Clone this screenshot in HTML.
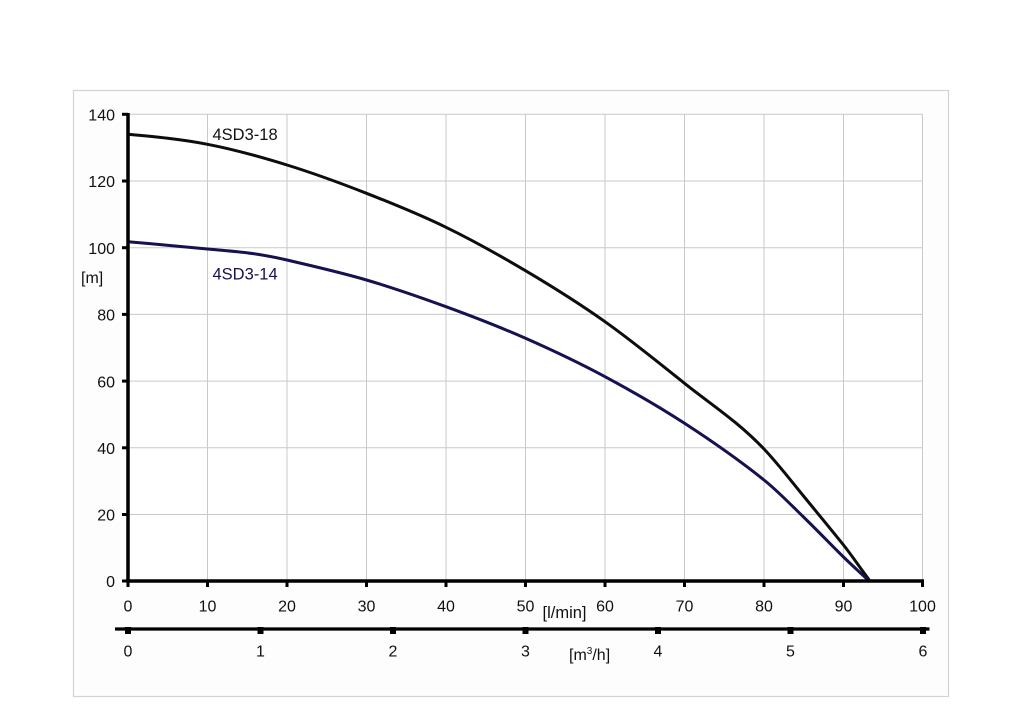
<!DOCTYPE html>
<html>
<head>
<meta charset="utf-8">
<style>
html,body{margin:0;padding:0;background:#ffffff;}
svg{display:block;}
text{font-family:"Liberation Sans",Arial,sans-serif;fill:#111;}
</style>
</head>
<body>
<svg width="1024" height="723" viewBox="0 0 1024 723" xmlns="http://www.w3.org/2000/svg">
<rect x="0" y="0" width="1024" height="723" fill="#ffffff"/>
<rect x="73.5" y="90.5" width="875" height="606" fill="#fdfdfd" stroke="#d4d4d4" stroke-width="1.2"/>
<rect x="128" y="114.3" width="794.5" height="466.9" fill="#ffffff" stroke="none"/>
<g stroke="#c9c9c9" stroke-width="1">
  <line x1="207.5" y1="114.3" x2="207.5" y2="581"/>
  <line x1="287" y1="114.3" x2="287" y2="581"/>
  <line x1="366.5" y1="114.3" x2="366.5" y2="581"/>
  <line x1="446" y1="114.3" x2="446" y2="581"/>
  <line x1="525.5" y1="114.3" x2="525.5" y2="581"/>
  <line x1="605" y1="114.3" x2="605" y2="581"/>
  <line x1="684.5" y1="114.3" x2="684.5" y2="581"/>
  <line x1="764" y1="114.3" x2="764" y2="581"/>
  <line x1="843.5" y1="114.3" x2="843.5" y2="581"/>
  <line x1="922.5" y1="114.3" x2="922.5" y2="581"/>
  <line x1="128" y1="114.3" x2="922.5" y2="114.3"/>
  <line x1="128" y1="181" x2="922.5" y2="181"/>
  <line x1="128" y1="247.7" x2="922.5" y2="247.7"/>
  <line x1="128" y1="314.4" x2="922.5" y2="314.4"/>
  <line x1="128" y1="381.1" x2="922.5" y2="381.1"/>
  <line x1="128" y1="447.8" x2="922.5" y2="447.8"/>
  <line x1="128" y1="514.5" x2="922.5" y2="514.5"/>
</g>

<path fill="none" stroke="#0d0d0d" stroke-width="3" stroke-linecap="round" stroke-linejoin="round"
 d="M128,134.3 C154.5,136.7 181,139.2 207.5,144.3 C234,149.4 260.5,156.8 287,165 C313.5,173.2 340,182.9 366.5,193.3 C393,203.7 419.5,214.4 446,227.3 C472.5,240.2 499,255 525.5,270.7 C552,286.4 578.5,302.9 605,321.7 C631.5,340.5 658,362.1 684.5,383.3 C711,404.5 737.5,421.2 764,449 C777.2,462.8 790.3,479.9 803.5,496 C816.8,512.3 830.2,528.3 843.5,545 C852.3,556 861.2,569.5 870,581"/>
<path fill="none" stroke="#16114f" stroke-width="3" stroke-linecap="round" stroke-linejoin="round"
 d="M128,241.7 C154.5,244.1 181,246.35 207.5,249 C224.7,250.7 241.8,251.75 259,254.5 C268.3,256 277.7,257.8 287,260 C313.5,266.3 340,272.2 366.5,280 C393,287.8 419.5,297 446,306.7 C472.5,316.4 499,326.6 525.5,338.3 C552,350 578.5,362.5 605,376.7 C631.5,390.9 658,406.1 684.5,423.3 C711,440.5 737.5,458.8 764,480 C777.2,490.5 790.3,504.2 803.5,517 C816.8,529.9 830.2,543.9 843.5,557 C852,565.3 860.5,572.9 869,581"/>

<line x1="128" y1="113" x2="128" y2="582.5" stroke="#000" stroke-width="3.5"/>
<g stroke="#000" stroke-width="3">
  <line x1="122" y1="114.3" x2="128" y2="114.3"/>
  <line x1="122" y1="181" x2="128" y2="181"/>
  <line x1="122" y1="247.7" x2="128" y2="247.7"/>
  <line x1="122" y1="314.4" x2="128" y2="314.4"/>
  <line x1="122" y1="381.1" x2="128" y2="381.1"/>
  <line x1="122" y1="447.8" x2="128" y2="447.8"/>
  <line x1="122" y1="514.5" x2="128" y2="514.5"/>
  <line x1="122" y1="581" x2="128" y2="581"/>
</g>
<g font-size="16" text-anchor="end">
  <text x="115" y="120.5">140</text>
  <text x="115" y="187.2">120</text>
  <text x="115" y="253.9">100</text>
  <text x="115" y="320.6">80</text>
  <text x="115" y="387.3">60</text>
  <text x="115" y="454">40</text>
  <text x="115" y="520.7">20</text>
  <text x="115" y="587">0</text>
</g>
<text x="81" y="283" font-size="16">[m]</text>

<line x1="126" y1="581" x2="924" y2="581" stroke="#000" stroke-width="3.5"/>
<g stroke="#000" stroke-width="3">
  <line x1="128" y1="581" x2="128" y2="587"/>
  <line x1="207.5" y1="581" x2="207.5" y2="587"/>
  <line x1="287" y1="581" x2="287" y2="587"/>
  <line x1="366.5" y1="581" x2="366.5" y2="587"/>
  <line x1="446" y1="581" x2="446" y2="587"/>
  <line x1="525.5" y1="581" x2="525.5" y2="587"/>
  <line x1="605" y1="581" x2="605" y2="587"/>
  <line x1="684.5" y1="581" x2="684.5" y2="587"/>
  <line x1="764" y1="581" x2="764" y2="587"/>
  <line x1="843.5" y1="581" x2="843.5" y2="587"/>
  <line x1="922.5" y1="581" x2="922.5" y2="587"/>
</g>
<g font-size="16" text-anchor="middle">
  <text x="128" y="611.5">0</text>
  <text x="207.5" y="611.5">10</text>
  <text x="287" y="611.5">20</text>
  <text x="366.5" y="611.5">30</text>
  <text x="446" y="611.5">40</text>
  <text x="525.5" y="611.5">50</text>
  <text x="605" y="611.5">60</text>
  <text x="684.5" y="611.5">70</text>
  <text x="764" y="611.5">80</text>
  <text x="843.5" y="611.5">90</text>
  <text x="922.5" y="611.5">100</text>
</g>
<text x="542.5" y="618" font-size="16.5">[l/min]</text>

<line x1="115" y1="629" x2="929.5" y2="629" stroke="#000" stroke-width="3.2"/>
<g fill="#000">
  <rect x="125" y="627" width="6" height="7"/>
  <rect x="257.5" y="627" width="6" height="7"/>
  <rect x="390" y="627" width="6" height="7"/>
  <rect x="522.5" y="627" width="6" height="7"/>
  <rect x="655" y="627" width="6" height="7"/>
  <rect x="787.5" y="627" width="6" height="7"/>
  <rect x="920" y="627" width="6" height="7"/>
</g>
<g font-size="16" text-anchor="middle">
  <text x="128" y="656.5">0</text>
  <text x="260.5" y="656.5">1</text>
  <text x="393" y="656.5">2</text>
  <text x="525.5" y="656.5">3</text>
  <text x="658" y="656.5">4</text>
  <text x="790.5" y="656.5">5</text>
  <text x="923" y="656.5">6</text>
</g>
<text x="569" y="660" font-size="16">[m<tspan font-size="10" dy="-6">3</tspan><tspan dy="6">/h]</tspan></text>

<text x="212.5" y="140" font-size="16.5">4SD3-18</text>
<text x="212.5" y="279.3" font-size="16.5" style="fill:#16114f">4SD3-14</text>
</svg>
</body>
</html>
